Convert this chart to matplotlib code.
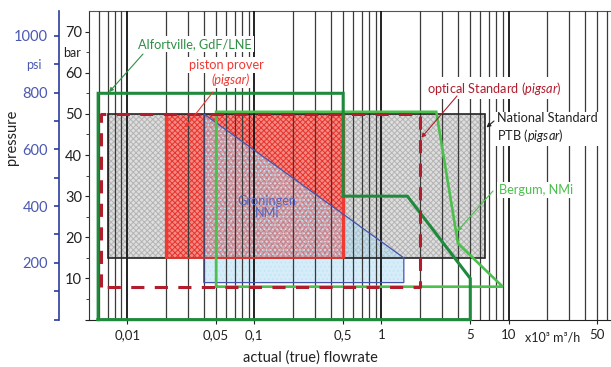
import matplotlib
matplotlib.use("Agg")
import matplotlib.pyplot as plt
from matplotlib.patches import Polygon
import numpy as np

plt.rcParams["font.family"] = ["Lato", "DejaVu Sans"]
plt.rcParams["mathtext.fontset"] = "custom"
plt.rcParams["mathtext.rm"] = "Lato"
plt.rcParams["mathtext.it"] = "Lato:italic"
plt.rcParams["hatch.linewidth"] = 0.7

PSI_PER_BAR = 14.5038

# ---- test-rig ranges: flowrate (x10^3 m3/h) and pressure (bar) ----
ptb_flow = [0.007, 6.5]
ptb_p = [15, 50]

piston_flow = [0.02, 0.5]
piston_p = [15, 50]

optical_flow = [0.0062, 2.0]
optical_p = [8, 50]

groningen_flow = [0.04, 0.04, 1.5, 1.5]
groningen_p = [9, 50, 15, 9]

alfort_flow = [0.0059, 0.0059, 0.5, 0.5, 1.6, 5.0, 5.0, 0.0059]
alfort_p = [0, 55, 55, 30, 30, 10, 0, 0]

bergum_flow = [0.05, 0.05, 2.7, 4.0, 9.0, 0.05]
bergum_p = [8, 50.5, 50.5, 18.5, 8, 8]

x_ticks = [0.01, 0.05, 0.1, 0.5, 1, 5, 10, 50]
x_tick_labels = ["0,01", "0,05", "0,1", "0,5", "1", "5", "10", "50"]
bar_ticks = [0, 10, 20, 30, 40, 50, 60, 70]
bar_labels = ["", "10", "20", "30", "40", "50", "60", "70"]
psi_ticks = [0, 200, 400, 600, 800, 1000]
psi_labels = ["", "200", "400", "600", "800", "1000"]

GREEN_D = "#1f8a3c"
GREEN_L = "#4cbf4c"
RED = "#ee3a33"
DRED = "#b01e2d"
BLUE = "#4455b0"
BLUE_T = "#5564c0"

W, H = 611, 367
PT = 72 / 100  # points per pixel
fig = plt.figure(figsize=(W / 100, H / 100), dpi=100)
x0, x1, ytop, ybot = 89, 611, 11, 319.6
ax = fig.add_axes([x0 / W, 1 - ybot / H, (x1 - x0) / W, (ybot - ytop) / H])
ax.set_xscale("log")
ax.set_xlim(0.005, 64)
ax.set_ylim(0, 75)


def rect_xy(fl, p):
    return [(fl[0], p[0]), (fl[0], p[1]), (fl[1], p[1]), (fl[1], p[0])]


# PTB textured area
ax.add_patch(Polygon(rect_xy(ptb_flow, ptb_p), closed=True, facecolor="#dedede",
                     edgecolor="#b4b4b4", hatch="xxxxxx", lw=0, zorder=1))
# piston prover textured area
ax.add_patch(Polygon(rect_xy(piston_flow, piston_p), closed=True, facecolor="#f38a84",
                     edgecolor="#e8332c", hatch="xxxxxx", lw=0, zorder=2))
# Groningen area
ax.add_patch(Polygon(list(zip(groningen_flow, groningen_p)), closed=True,
                     facecolor="#a6d8f2", edgecolor="none", alpha=0.45, zorder=3))
ax.add_patch(Polygon(list(zip(groningen_flow, groningen_p)), closed=True,
                     facecolor="none", edgecolor="#c2e4f5", hatch="....", lw=0, zorder=3))

# logarithmic grid
for d in range(-3, 2):
    for k in range(1, 10):
        v = k * 10.0 ** d
        if 0.005 < v < 64:
            if k == 1:
                ax.axvline(v, color="#111111", lw=1.3, zorder=4)
            else:
                ax.axvline(v, color="#3a3a3a", lw=0.9, zorder=4)

# outlines
ax.add_patch(Polygon(rect_xy(ptb_flow, ptb_p), closed=True, facecolor="none",
                     edgecolor="#222222", lw=1.2, zorder=5))
ax.plot([piston_flow[0], piston_flow[1]], [piston_p[0], piston_p[0]], color=RED, lw=1.2, zorder=5)
for fv in piston_flow:
    ax.plot([fv, fv], piston_p, color=RED, lw=2.4, zorder=5, solid_capstyle="butt")
ax.add_patch(Polygon(list(zip(groningen_flow, groningen_p)), closed=True,
                     facecolor="none", edgecolor=BLUE, lw=0.9, zorder=5))

ax.plot(bergum_flow, bergum_p, color=GREEN_L, lw=1.9, zorder=6, clip_on=False,
        solid_joinstyle="miter")
ax.plot(alfort_flow, alfort_p, color=GREEN_D, lw=2.2, zorder=7, clip_on=False,
        solid_joinstyle="miter")
ox = [optical_flow[0], optical_flow[0], optical_flow[1], optical_flow[1], optical_flow[0]]
oy = [optical_p[0], optical_p[1], optical_p[1], optical_p[0], optical_p[0]]
ax.plot(ox, oy, color=DRED, lw=2.2, ls=(0, (4.3, 3.4)), zorder=8)

# axes styling
ax.spines["right"].set_visible(False)
ax.spines["top"].set_color("#555555")
ax.spines["left"].set_color("#333333")
ax.spines["bottom"].set_color("#222222")
ax.set_xticks(x_ticks)
ax.set_xticklabels(x_tick_labels)
ax.xaxis.set_minor_locator(matplotlib.ticker.NullLocator())
ax.tick_params(axis="x", direction="out", length=3, pad=4, labelsize=9.5, colors="#222222")
ax.set_yticks(bar_ticks)
ax.set_yticklabels(bar_labels)
ax.set_yticks([5, 15, 25, 35, 45, 55, 65], labels=["", "", "", "", "", "", "bar"], minor=True)
ax.tick_params(axis="y", which="major", direction="out", length=4 * PT, pad=3 * PT,
               labelsize=10.5, colors="#222222")
ax.tick_params(axis="y", which="minor", direction="out", length=3 * PT, pad=5 * PT,
               labelsize=9, colors="#222222")

ax2 = ax.twinx()
ax2.set_ylim(0, 75 * PSI_PER_BAR)
ax2.yaxis.set_ticks_position("left")
ax2.spines["left"].set_position(("outward", 30 * PT))
ax2.spines["left"].set_visible(True)
ax2.spines["left"].set_color("#2c3c9c")
ax2.spines["left"].set_linewidth(1.2)
for s in ["right", "top", "bottom"]:
    ax2.spines[s].set_visible(False)
ax2.set_yticks(psi_ticks)
ax2.set_yticklabels(psi_labels)
ax2.set_yticks([100, 300, 500, 700, 900], labels=["", "", "", "", "psi"], minor=True)
ax2.tick_params(axis="y", which="major", direction="out", length=5 * PT, width=1.2,
                pad=6 * PT, labelsize=10.5, color="#2c3c9c", labelcolor="#4a58b0")
ax2.tick_params(axis="y", which="minor", direction="out", length=5 * PT, width=1.2,
                pad=12 * PT, labelsize=9, color="#2c3c9c", labelcolor="#4a58b0")

fig.text(12 / W, 1 - 137 / H, "pressure", rotation=90, ha="center", va="center",
         fontsize=10.5, color="#222222")
fig.text(310 / W, 1 - 358 / H, "actual (true) flowrate", ha="center", va="center",
         fontsize=10.5, color="#222222")
fig.text(525 / W, 1 - 337 / H, "x10³ m³/h", ha="left", va="center", fontsize=9,
         color="#222222")


def fx(px):
    return (px - x0) / (x1 - x0)


def fy(py):
    return (ybot - py) / (ybot - ytop)


box = dict(facecolor="white", edgecolor="none", pad=1.5)
tkw = dict(transform=ax.transAxes, zorder=10)
FS = 9.2

ax.text(fx(195), fy(44), "Alfortville, GdF/LNE", ha="center", va="center", fontsize=FS,
        color="#2f8f46", bbox=box, **tkw)
ax.text(fx(226), fy(65), "piston prover", ha="center", va="center", fontsize=FS,
        color=RED, bbox=box, **tkw)
ax.text(fx(231), fy(80), "(pigsar)", ha="center", va="center", fontsize=FS,
        color=RED, style="italic", bbox=box, **tkw)
ax.text(fx(427), fy(88), r"optical Standard $\mathit{(pigsar)}$", ha="left", va="center",
        fontsize=FS, color=DRED, bbox=box, **tkw)
ax.text(fx(497), fy(128), "National Standard\nPTB $\\mathit{(pigsar)}$", ha="left",
        va="center", fontsize=FS, color="#222222", linespacing=1.25, bbox=box, **tkw)
ax.text(fx(499), fy(190), "Bergum, NMi", ha="left", va="center", fontsize=FS,
        color=GREEN_L, bbox=box, **tkw)
ax.text(fx(267), fy(207), "Groningen\nNMi", ha="center", va="center", fontsize=FS,
        color=BLUE_T, linespacing=1.0, zorder=10, transform=ax.transAxes)


def pointer(start, tip, color):
    ax.annotate("", xy=tip, xycoords="data", xytext=start, textcoords="axes fraction",
                arrowprops=dict(arrowstyle="-|>", color=color, lw=0.8, mutation_scale=6,
                                shrinkA=0, shrinkB=0), zorder=11)


pointer((fx(143), fy(54)), (0.0072, 55.3), "#2f8f46")
pointer((fx(213), fy(92)), (0.0285, 46.7), RED)
pointer((fx(457), fy(96)), (2.06, 44.2), DRED)
pointer((fx(494), fy(121)), (6.7, 46.7), "#222222")
pointer((fx(493), fy(191)), (3.95, 21.5), GREEN_L)

fig.savefig("out.png", dpi=100)
